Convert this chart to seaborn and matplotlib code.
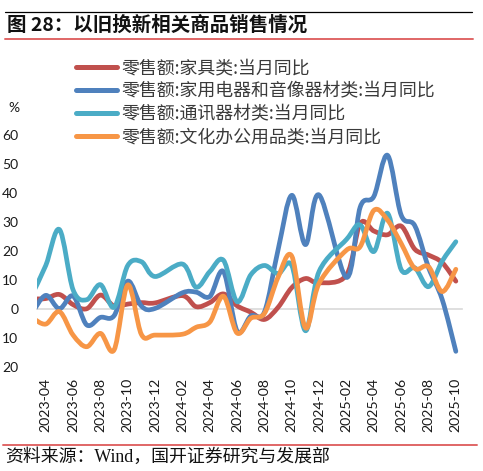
import numpy as np
import pandas as pd
import matplotlib
matplotlib.use("Agg")
import matplotlib.pyplot as plt
from matplotlib.path import Path
from matplotlib.patches import PathPatch
from matplotlib.lines import Line2D
import seaborn as sns

# ---------------- data ----------------
months = ["2023-03", "2023-04", "2023-05", "2023-06", "2023-07", "2023-08",
          "2023-09", "2023-10", "2023-11", "2023-12",
          "2024-02", "2024-03", "2024-04", "2024-05", "2024-06", "2024-07",
          "2024-08", "2024-09", "2024-10", "2024-11", "2024-12",
          "2025-02", "2025-03", "2025-04", "2025-05", "2025-06", "2025-07",
          "2025-08", "2025-09", "2025-10"]

furniture = [3.5, 3.6, 5.0, 1.5, 0.1, 4.8, 1.0, 1.7, 2.2, 2.1,
             4.6, 0.8, 2.2, 5.2, 1.1, -1.1, -3.6, 0.6, 7.4, 10.5, 9.0,
             11.7, 29.5, 26.9, 25.6, 28.6, 20.6, 18.6, 16.0, 9.6]
appliances = [-1.4, 4.7, 0.1, 4.5, -5.5, -2.9, -2.3, 9.6, 1.0, 0.2,
              5.6, 5.8, 4.3, 12.9, -7.6, -2.4, -1.0, 20.5, 39.2, 22.2, 39.3,
              10.9, 35.1, 38.8, 53.0, 32.4, 28.7, 14.3, 3.3, -14.6]
telecom = [5.0, 15.0, 27.4, 6.6, 3.2, 8.4, 0.6, 15.0, 16.3, 11.2,
           15.5, 7.5, 12.9, 16.8, 2.5, 11.8, 15.0, 12.2, 15.0, -7.5, 13.0,
           24.0, 29.0, 19.8, 33.0, 13.6, 14.2, 7.7, 16.5, 23.2]
office = [-3.0, -5.2, -0.9, -9.0, -13.0, -8.4, -14.1, 8.3, -8.8, -9.0,
          -8.7, -6.3, -4.5, 4.4, -8.3, -3.2, -1.5, 11.0, 18.2, -6.5, 8.9,
          20.3, 21.5, 34.0, 30.7, 22.6, 14.0, 14.6, 6.0, 13.7]

series_names = ["零售额:家具类:当月同比",
                "零售额:家用电器和音像器材类:当月同比",
                "零售额:通讯器材类:当月同比",
                "零售额:文化办公用品类:当月同比"]
series_colors = ["#C0504D", "#4F81BD", "#4BACC6", "#F79646"]

x_labels = ["2023-04", "2023-06", "2023-08", "2023-10", "2023-12", "2024-02",
            "2024-04", "2024-06", "2024-08", "2024-10", "2024-12", "2025-02",
            "2025-04", "2025-06", "2025-08", "2025-10"]
y_ticks = [-20, -10, 0, 10, 20, 30, 40, 50, 60]
y_labels = ["20", "10", "0", "10", "20", "30", "40", "50", "60"]

title = "图 28：以旧换新相关商品销售情况"
source = "资料来源：Wind，国开证券研究与发展部"

# ---------------- table ----------------
def month_pos(s):
    yy, mm = map(int, s.split("-"))
    return (yy - 2023) * 12 + (mm - 4)

df = pd.DataFrame({"month": months,
                   series_names[0]: furniture,
                   series_names[1]: appliances,
                   series_names[2]: telecom,
                   series_names[3]: office})
df["pos"] = df["month"].map(month_pos)
long = df.melt(id_vars=["month", "pos"], var_name="series", value_name="value")

# ---------------- style ----------------
sns.set_theme(style="white")
plt.rcParams["font.family"] = ["Lato", "Noto Sans CJK SC", "DejaVu Sans"]
plt.rcParams["axes.unicode_minus"] = False
palette = dict(zip(series_names, sns.color_palette(series_colors)))

fig = plt.figure(figsize=(4.83, 4.71), dpi=100)
W, H = 483.0, 471.0
ax = fig.add_axes([37 / W, 1 - 367 / H, 425 / W, 232 / H])

x_left, x_right = -0.64, 30.45
ax.set_xlim(x_left, x_right)
ax.set_ylim(-20, 60)


def smooth_path(x, y):
    pts = np.column_stack([x, y]).astype(float)
    n = len(pts)
    verts = [pts[0]]
    codes = [Path.MOVETO]
    for i in range(n - 1):
        p0 = pts[i - 1] if i > 0 else pts[i]
        p1 = pts[i]
        p2 = pts[i + 1]
        p3 = pts[i + 2] if i + 2 < n else pts[i + 1]
        verts += [p1 + (p2 - p0) / 6.0, p2 - (p3 - p1) / 6.0, p2]
        codes += [Path.CURVE4] * 3
    return Path(verts, codes)


for k, name in enumerate(series_names):
    sub = long[long["series"] == name].sort_values("pos")
    patch = PathPatch(smooth_path(sub["pos"].values, sub["value"].values),
                      facecolor="none", edgecolor=palette[name], lw=3.4,
                      capstyle="round", joinstyle="round", zorder=3 + k)
    ax.add_patch(patch)

# axes decoration
for s in ["top", "right", "left"]:
    ax.spines[s].set_visible(False)
ax.spines["bottom"].set_position(("data", 0))
ax.spines["bottom"].set_color("#d9d9d9")
ax.spines["bottom"].set_linewidth(1.2)
ax.spines["bottom"].set_zorder(1)

ax.set_xticks([x_left + 2 * k for k in range(16)])
ax.tick_params(axis="x", length=3.5, width=1.0, color="#d9d9d9",
               direction="out", labelbottom=False)

ax.set_yticks(y_ticks)
ax.set_yticklabels(y_labels)
ax.tick_params(axis="y", length=0, pad=13.5, labelsize=10, labelcolor="#1a1a1a")
for t in ax.get_yticklabels():
    t.set_fontfamily(["Lato", "DejaVu Sans"])

sec = ax.secondary_xaxis("bottom")
sec.set_xticks([month_pos(m) for m in x_labels])
sec.set_xticklabels(x_labels, rotation=90)
sec.tick_params(length=0, pad=8, labelsize=10.2, labelcolor="#1a1a1a")
sec.spines["bottom"].set_visible(False)
ax.grid(False)

# legend
handles = [Line2D([0], [0], color=palette[n], lw=3.6, solid_capstyle="round")
           for n in series_names]
fig.legend(handles, series_names, loc="upper left",
           bbox_to_anchor=(76 / W, 1 - 59.0 / H), frameon=False,
           handlelength=2.3, handletextpad=0.25,
           labelspacing=0.28, borderpad=0, borderaxespad=0,
           prop={"family": ["Noto Sans CJK SC"], "size": 12.9},
           labelcolor="#3a3a3a")

fig.text(8 / W, 1 - 108 / H, "%", fontsize=10, va="center", ha="left",
         color="#1a1a1a", family=["Lato", "DejaVu Sans"])

# header / footer
fig.add_artist(Line2D([5 / W, 472 / W], [1 - 12 / H] * 2, color="black",
                      lw=0.9, transform=fig.transFigure))
fig.text(7 / W, 1 - 25.5 / H, title, fontsize=14, fontweight="bold",
         va="center", ha="left", color="#111111",
         family=["Noto Sans CJK SC"])
fig.add_artist(Line2D([5 / W, 473 / W], [1 - 38.5 / H] * 2, color="#E06666",
                      lw=1.4, transform=fig.transFigure))
fig.add_artist(Line2D([3 / W, 477 / W], [1 - 445 / H] * 2, color="#E06666",
                      lw=1.4, transform=fig.transFigure))
fig.text(5 / W, 1 - 457.5 / H, source, fontsize=12.9, va="center", ha="left",
         color="#111111", family=["Liberation Serif", "Noto Sans CJK SC"])

fig.savefig("out.png", dpi=100)
